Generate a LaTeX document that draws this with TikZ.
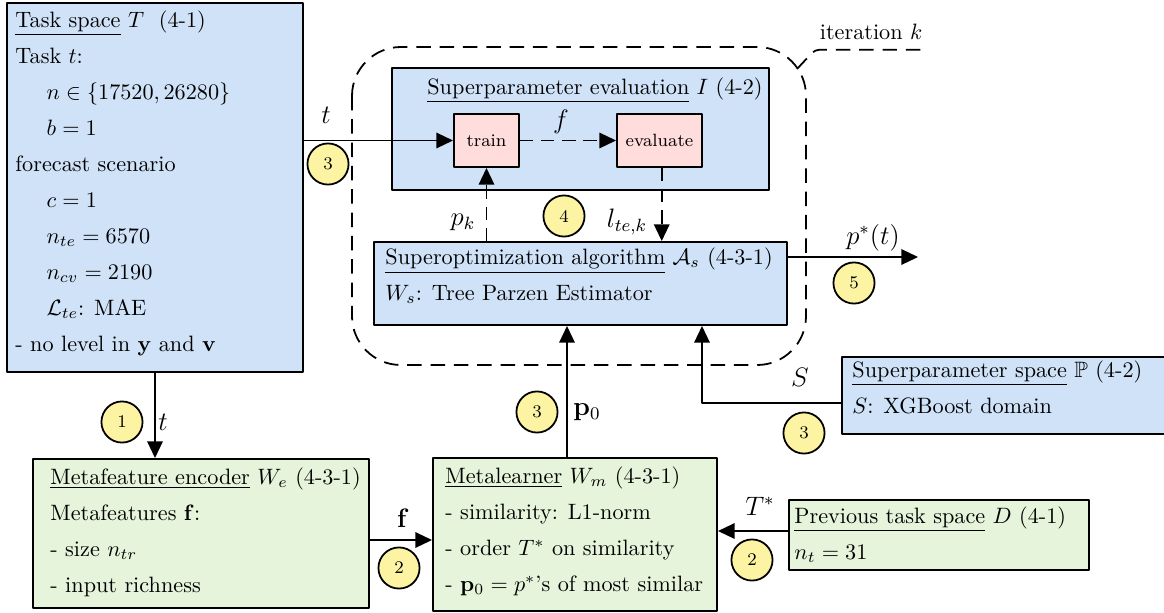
\documentclass[tikz,border=0pt]{standalone}
\usepackage{amsmath,amssymb}
\usepackage{tikz}
\usetikzlibrary{arrows.meta,calc}
\usepackage{xcolor}
\definecolor{boxblue}{RGB}{207,226,247}
\definecolor{boxgreen}{RGB}{229,244,218}
\definecolor{boxpink}{RGB}{255,221,221}
\definecolor{markyellow}{RGB}{253,244,163}

\tikzset{
  blockbox/.style={draw,line width=0.9pt,inner sep=0pt,anchor=north west},
  bluebox/.style={blockbox,fill=boxblue},
  greenbox/.style={blockbox,fill=boxgreen},
  stagebox/.style={draw,line width=0.9pt,fill=boxpink,inner sep=0pt,minimum height=23.85pt,font=\footnotesize},
  txtlines/.style={anchor=north west,align=left,inner sep=0pt,font=\fontsize{10pt}{16.2pt}\selectfont},
  flow/.style={line width=0.7pt,-{Triangle[length=7.5pt,width=7pt]}},
  flowdash/.style={flow,dash pattern=on 6pt off 3.5pt},
  loopdash/.style={line width=0.8pt,dash pattern=on 6.5pt off 4pt},
  lbl/.style={inner sep=0pt,font=\large},
  num/.style={circle,draw,line width=0.8pt,fill=markyellow,minimum size=18.5pt,inner sep=0pt,font=\footnotesize},
}

\begin{document}
\begin{tikzpicture}[x=0.45pt,y=-0.45pt,line join=round]
  \useasboundingbox (0,0) rectangle (1164,612);

  % the loop of one iteration
  \draw[loopdash,rounded corners=22pt] (352,47) rectangle (806,365);
  \coordinate (pin) at (797,69);
  \node[anchor=base west,inner xsep=2pt,inner ysep=4.5pt] (iter) at (815,39) {iteration $k$};
  \draw[loopdash,rounded corners=2pt] (pin) -- (iter.south west) -- (iter.south east);

  % task space
  \node[bluebox,minimum width=133.2pt,minimum height=166pt] (task) at (6,2) {};
  \node[txtlines] (task-txt) at (15,1.8) {\strut\underline{Task space} $T$\ \ (4-1)\\
    Task $t$:\\
    \hspace*{14pt}$n\in\{17520,26280\}$\\
    \hspace*{14pt}$b=1$\\
    forecast scenario\\
    \hspace*{14pt}$c=1$\\
    \hspace*{14pt}$n_{te}=6570$\\
    \hspace*{14pt}$n_{cv}=2190$\\
    \hspace*{14pt}$\mathcal{L}_{te}$: MAE\\
    - no level in $\mathbf{y}$ and $\mathbf{v}$};

  % evaluation of one superparameter set
  \node[bluebox,minimum width=169.65pt,minimum height=54.9pt] (eval) at (391,67) {};
  \node[anchor=base east,inner sep=0pt] (eval-title) at (763,94) {\underline{Superparameter evaluation} $I$ (4-2)};
  \node[stagebox,minimum width=29.25pt] (train) at (486.5,140.5) {train};
  \node[stagebox,minimum width=38.25pt] (evaluate) at (659.5,140.5) {evaluate};

  % superoptimization algorithm
  \node[bluebox,minimum width=185.85pt,minimum height=37.35pt] (sopt) at (373,241) {};
  \node[txtlines] (sopt-txt) at (385,238.8) {\strut\underline{Superoptimization algorithm} $\mathcal{A}_s$ (4-3-1)\\
    $W_s$: Tree Parzen Estimator};

  % superparameter space
  \node[bluebox,minimum width=146.7pt,minimum height=34.65pt] (pspace) at (841,356) {};
  \node[txtlines] (pspace-txt) at (852,351.8) {\strut\underline{Superparameter space} $\mathbb{P}$ (4-2)\\
    $S$: XGBoost domain};

  % metafeature encoder
  \node[greenbox,minimum width=151.2pt,minimum height=67.05pt] (menc) at (32,458) {};
  \node[txtlines] (menc-txt) at (50,458.8) {\strut\underline{Metafeature encoder} $W_e$ (4-3-1)\\
    Metafeatures $\mathbf{f}$:\\
    - size $n_{tr}$\\
    - input richness};

  % metalearner
  \node[greenbox,minimum width=127.8pt,minimum height=68.85pt] (mlearn) at (432,457) {};
  \node[txtlines] (mlearn-txt) at (445,457.8) {\strut\underline{Metalearner} $W_m$ (4-3-1)\\
    - similarity: L1-norm\\
    - order $T^*$ on similarity\\
    - $\mathbf{p}_0=p^*$'s of most similar};

  % previous task space
  \node[greenbox,minimum width=135pt,minimum height=31.5pt] (dspace) at (788,499) {};
  \node[txtlines] (dspace-txt) at (794,497.8) {\strut\underline{Previous task space} $D$ (4-1)\\
    $n_t=31$};

  % connectors
  \coordinate (pstar) at (918,257);
  \coordinate (sbend) at (702,403);
  \coordinate (fmid) at (400,540);
  \draw[flow] (task.east |- train.west) -- (train.west);
  \draw[flowdash] (train.east) -- (evaluate.west);
  \draw[flowdash] (train.south |- sopt.north) -- (train.south);
  \draw[flowdash] ([xshift=1pt]evaluate.south) -- ([xshift=1pt]evaluate.south |- sopt.north);
  \draw[flow] (sopt.east |- pstar) -- (pstar);
  \draw[flow] (sbend -| pspace.west) -- (sbend) -- (sbend |- sopt.south);
  \draw[flow] ([xshift=-3.6pt]mlearn.north) -- ([xshift=-3.6pt]mlearn.north |- sopt.south);
  \draw[flow] (task.south) -- (task.south |- menc.north);
  \draw[flow] (fmid -| menc.east) -- (fmid -| mlearn.west);
  \draw[flow] ([yshift=1.8pt]dspace.west) -- ([yshift=1.8pt]dspace.west -| mlearn.east);

  % labels on the connectors
  \node[lbl] (l-t) at (326,115) {$t$};
  \node[lbl] (l-f) at (561,122) {$f$};
  \node[lbl] (l-pk) at (463,222) {$p_k$};
  \node[lbl] (l-lte) at (627,222) {$l_{te,k}$};
  \node[lbl] (l-pstar) at (873,238) {$p^*(t)$};
  \node[lbl] (l-s) at (800,377) {$S$};
  \node[lbl] (l-p0) at (587,412) {$\mathbf{p}_0$};
  \node[lbl] (l-t2) at (163,422) {$t$};
  \node[lbl] (l-fv) at (403,518) {$\mathbf{f}$};
  \node[lbl] (l-tstar) at (760,506) {$T^*$};

  % step numbers
  \node[num] (n3a) at (328,164) {3};
  \node[num] (n4) at (564,216) {4};
  \node[num] (n5) at (854,283) {5};
  \node[num] (n3b) at (804,433) {3};
  \node[num] (n3c) at (537,412) {3};
  \node[num] (n1) at (122,422) {1};
  \node[num] (n2a) at (399,568) {2};
  \node[num] (n2b) at (752,560) {2};
\end{tikzpicture}
\end{document}
